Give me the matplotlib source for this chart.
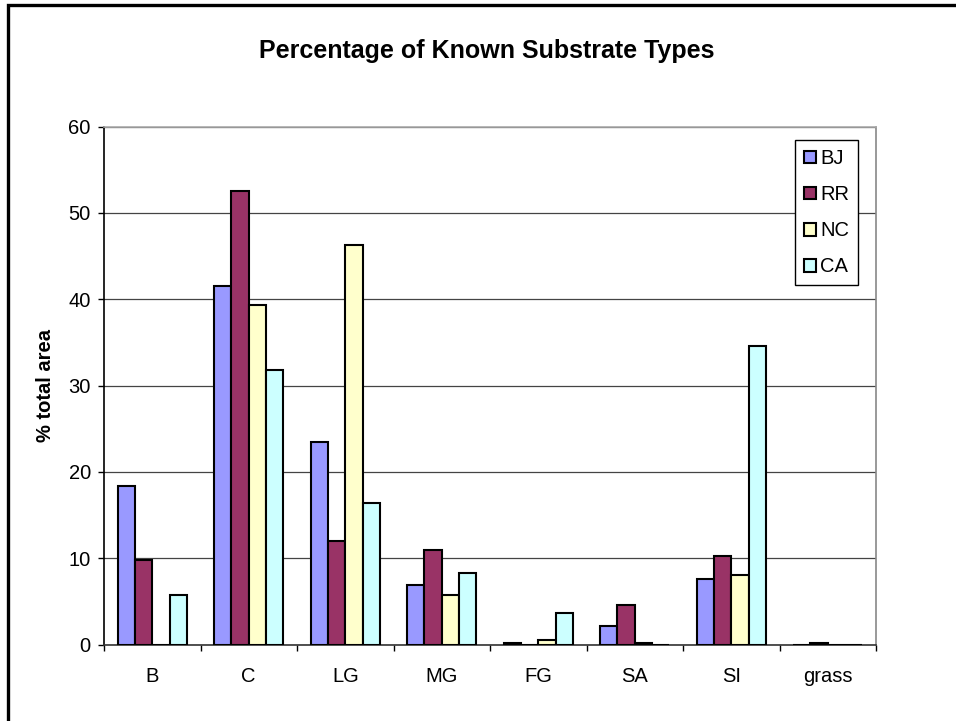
import numpy as np
import matplotlib.pyplot as plt
from matplotlib.patches import Rectangle

plt.rcParams['font.family'] = ['Liberation Sans', 'DejaVu Sans']

# substrate categories and percentage of total area per site
categories = ['B', 'C', 'LG', 'MG', 'FG', 'SA', 'SI', 'grass']
sites = ['BJ', 'RR', 'NC', 'CA']
bj = [18.4, 41.5, 23.4, 6.9, 0.15, 2.2, 7.6, 0.0]
rr = [9.8, 52.5, 12.0, 11.0, 0.0, 4.6, 10.2, 0.15]
nc = [0.0, 39.3, 46.3, 5.7, 0.5, 0.15, 8.0, 0.0]
ca = [5.7, 31.8, 16.4, 8.3, 3.6, 0.0, 34.6, 0.0]
colors = ['#9999FF', '#993366', '#FFFFCC', '#CCFFFF']

W, H = 956, 721
fig = plt.figure(figsize=(W / 100, H / 100), dpi=100)

# outer chart frame (top and left edges visible)
fig.patches.append(Rectangle((8 / W, -0.05), 1.1, 1 - 5 / H + 0.05,
                             transform=fig.transFigure, fill=False,
                             edgecolor='black', linewidth=2.4))

ax = fig.add_axes([104 / W, (H - 644.5) / H, 772 / W, 518 / H])

x = np.arange(len(categories))
width = 0.18
series = [bj, rr, nc, ca]
for i, (vals, c, name) in enumerate(zip(series, colors, sites)):
    ax.bar(x + (i - 1.5) * width, vals, width, color=c, edgecolor='black',
           linewidth=1.5, label=name, zorder=3)

ax.set_xlim(-0.5, len(categories) - 0.5)
ax.set_ylim(0, 60)
ax.set_yticks(np.arange(0, 61, 10))
ax.yaxis.grid(True, color='#444444', linewidth=0.9, zorder=0)

# category boundaries as ticks, names in between
ax.set_xticks(np.arange(len(categories) + 1) - 0.5)
ax.set_xticklabels([])
ax.set_xticks(x, minor=True)
ax.set_xticklabels(categories, minor=True)
ax.tick_params(axis='x', which='major', direction='out', length=4.5, width=1)
ax.tick_params(axis='x', which='minor', length=0, pad=16, labelsize=14.5)
ax.tick_params(axis='y', direction='out', length=4.5, width=1, pad=5, labelsize=14.5)

ax.spines['left'].set_color('black')
ax.spines['bottom'].set_color('#333333')
ax.spines['right'].set_color('#888888')
ax.spines['top'].set_color('#aaaaaa')
for s in ax.spines.values():
    s.set_linewidth(1.2)

ax.set_ylabel('% total area', fontsize=14.5, fontweight='bold', labelpad=10)
fig.text(487 / W, 1 - 51 / H, 'Percentage of Known Substrate Types',
         ha='center', va='center', fontsize=18, fontweight='bold')

leg = ax.legend(loc='upper left', bbox_to_anchor=(795 / W, 1 - 140 / H),
                bbox_transform=fig.transFigure, fontsize=14.5, frameon=True,
                fancybox=False, edgecolor='black', framealpha=1,
                handlelength=0.6, handleheight=0.6, handletextpad=0.2,
                labelspacing=0.85, borderpad=0.45, borderaxespad=0)
leg.get_frame().set_linewidth(1.0)

fig.savefig('out.png', dpi=100)
